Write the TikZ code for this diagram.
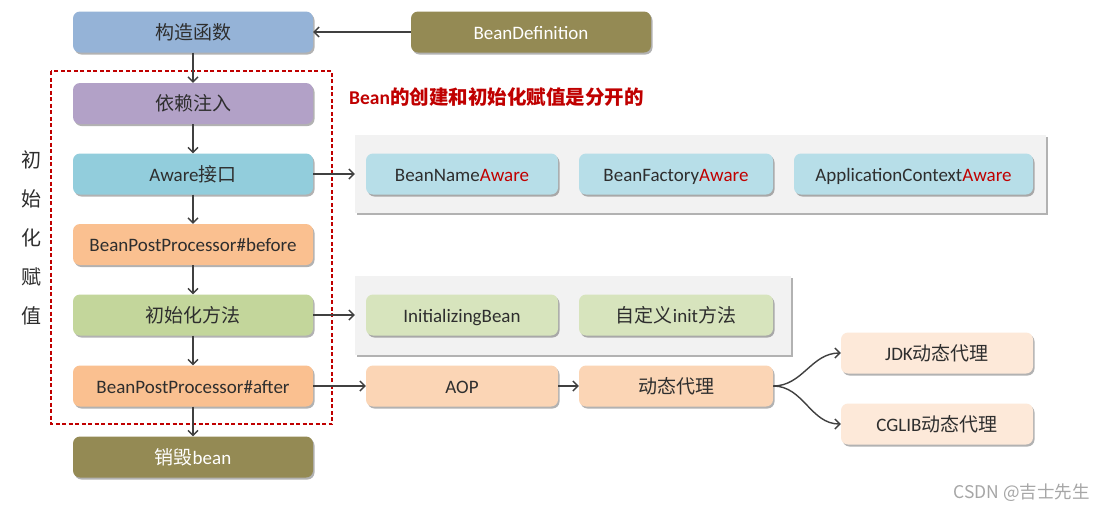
\documentclass[tikz,border=0pt]{standalone}
\usepackage{fontspec}
\setmainfont{Carlito}
\newfontfamily\cjk{Noto Sans CJK SC}
\usetikzlibrary{arrows.meta,shadows}
\definecolor{txt}{HTML}{2E2E2E}
\definecolor{cblue}{HTML}{95B3D7}
\definecolor{colive}{HTML}{948A54}
\definecolor{cpurple}{HTML}{B2A1C7}
\definecolor{caware}{HTML}{92CDDC}
\definecolor{corange}{HTML}{FAC090}
\definecolor{cgreen}{HTML}{C3D69B}
\definecolor{clightblue}{HTML}{B7DEE8}
\definecolor{clightgreen}{HTML}{D7E4BD}
\definecolor{clightorange}{HTML}{FBD5B5}
\definecolor{cpale}{HTML}{FDE9D9}
\definecolor{cpanel}{HTML}{F2F2F2}
\definecolor{cred}{HTML}{C00000}
\definecolor{carrow}{HTML}{404040}
\definecolor{cwm}{HTML}{A6A6A6}
\begin{document}
\begin{tikzpicture}[x=1pt,y=-1pt,
  box/.style={rounded corners=7pt, minimum width=240pt, minimum height=41pt, inner sep=0pt,
    font=\fontsize{19}{21}\selectfont, text=txt, text height=18pt, text depth=4pt,
    drop shadow={shadow xshift=1.5pt, shadow yshift=-2pt, opacity=0.3, fill=black}},
  sbox/.style={box, minimum width=192pt},
  panel/.style={fill=cpanel, inner sep=0pt,
    drop shadow={shadow xshift=1.5pt, shadow yshift=-2pt, opacity=0.3, fill=black}},
  arr/.style={draw=carrow, line width=1.4pt, -{Straight Barb[length=5pt,width=10pt]}},
  vchar/.style={font=\fontsize{20}{21}\selectfont\cjk, text=txt, inner sep=0pt},
]
\useasboundingbox (0,0) rectangle (1105,512);
\fill[white] (0,0) rectangle (1105,512);

% gray panels
\node[panel, minimum width=691pt, minimum height=78pt] (p1) at (700.5,174) {};
\node[panel, minimum width=436pt, minimum height=79pt] (p2) at (573,315.5) {};

% main column
\node[box, fill=cblue] (ctor) at (193,32) {\cjk 构造函数};
\node[box, fill=colive, text=white] (bd) at (531,32) {BeanDefinition};
\node[box, fill=cpurple] (di) at (193,103.5) {\cjk 依赖注入};
\node[box, fill=caware] (aw) at (193,174) {Aware{\cjk 接口}};
\node[box, fill=corange] (bpb) at (193,244.5) {BeanPostProcessor\#before};
\node[box, fill=cgreen] (im) at (193,315) {\cjk 初始化方法};
\node[box, fill=corange] (bpa) at (193,386) {BeanPostProcessor\#after};
\node[box, fill=colive, text=white] (des) at (193,457) {{\cjk 销毁}bean};

% aware boxes
\node[sbox, fill=clightblue] (bna) at (462,174) {BeanName\textcolor{cred}{Aware}};
\node[sbox, fill=clightblue, minimum width=194pt] (bfa) at (676,174) {BeanFactory\textcolor{cred}{Aware}};
\node[sbox, fill=clightblue, minimum width=239pt] (aca) at (913.5,174) {ApplicationContext\textcolor{cred}{Aware}};

% init boxes
\node[sbox, fill=clightgreen] (ib) at (462,315) {InitializingBean};
\node[sbox, fill=clightgreen, minimum width=194pt] (ci) at (676,315) {{\cjk 自定义}init{\cjk 方法}};

% aop row
\node[sbox, fill=clightorange] (aop) at (462,386) {AOP};
\node[sbox, fill=clightorange, minimum width=194pt] (dp) at (676,386) {\cjk 动态代理};
\node[sbox, fill=cpale] (jdk) at (937,353) {JDK{\cjk 动态代理}};
\node[sbox, fill=cpale] (cglib) at (937,424) {CGLIB{\cjk 动态代理}};

% dashed region
\draw[cred, dashed, line width=1.3pt, dash pattern=on 4pt off 2.5pt] (51,71) rectangle (332,424);

% title
\node[anchor=west, text=cred, inner sep=0pt, font=\fontsize{19.5}{21}\selectfont\bfseries] (title) at (349,97) {Bean{\cjk\bfseries 的创建和初始化赋值是分开的}};

% vertical label
\node[vchar] (v1) at (31,160) {初};
\node[vchar] (v2) at (31,199) {始};
\node[vchar] (v3) at (31,238) {化};
\node[vchar] (v4) at (31,277) {赋};
\node[vchar] (v5) at (31,316) {值};

% watermark
\node[anchor=east, text=cwm, inner sep=0pt, font=\fontsize{17.5}{18}\selectfont\cjk] (wm) at (1090,493) {CSDN @吉士先生};

% arrows
\draw[arr] (bd.west) -- (ctor.east);
\draw[arr] (ctor.south) -- (di.north);
\draw[arr] (di.south) -- (aw.north);
\draw[arr] (aw.south) -- (bpb.north);
\draw[arr] (bpb.south) -- (im.north);
\draw[arr] (im.south) -- (bpa.north);
\draw[arr] (bpa.south) -- (des.north);
\draw[arr] (aw.east) -- (aw.east -| p1.west);
\draw[arr] (im.east) -- (im.east -| p2.west);
\draw[arr] (bpa.east) -- (aop.west);
\draw[arr] (aop.east) -- (dp.west);
\draw[arr] (dp.east) to[out=0, in=180] (jdk.west);
\draw[arr] (dp.east) to[out=0, in=180] (cglib.west);
\end{tikzpicture}
\end{document}
